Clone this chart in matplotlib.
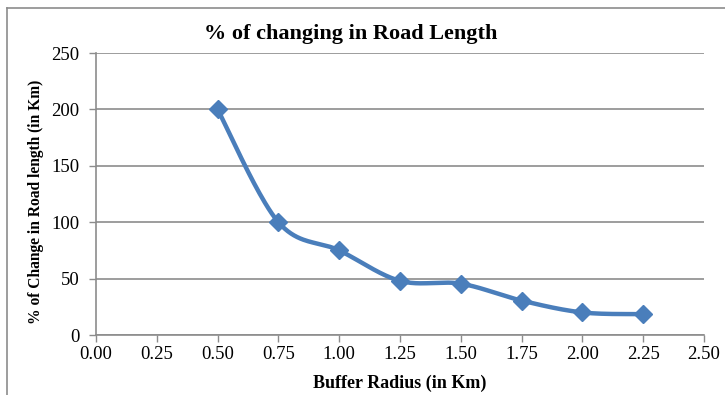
import numpy as np
import matplotlib
matplotlib.use("Agg")
import matplotlib.pyplot as plt
from matplotlib.lines import Line2D

# Data
buffer_radius = [0.50, 0.75, 1.00, 1.25, 1.50, 1.75, 2.00, 2.25]
pct_change = [200, 100, 75, 48, 45.5, 30.5, 20, 18.5]
x_ticks = [0.00, 0.25, 0.50, 0.75, 1.00, 1.25, 1.50, 1.75, 2.00, 2.25, 2.50]
y_ticks = [0, 50, 100, 150, 200, 250]

title = "% of changing in Road Length"
xlabel = "Buffer Radius (in Km)"
ylabel = "% of Change in Road length (in Km)"

BLUE = "#4A7EBB"
GRID = "#8C8C8C"
FONT = "Liberation Serif"

W, H, DPI = 725, 395, 100
fig = plt.figure(figsize=(W / DPI, H / DPI), dpi=DPI)
L, R, T, B = 96, 704, 53, 335
ax = fig.add_axes([L / W, 1 - B / H, (R - L) / W, (B - T) / H])

ax.set_xlim(0, 2.5)
ax.set_ylim(0, 250)
ax.set_xticks(x_ticks)
ax.set_xticklabels([f"{v:.2f}" for v in x_ticks], family=FONT, fontsize=13.5)
ax.set_yticks(y_ticks)
ax.set_yticklabels([str(v) for v in y_ticks], family=FONT, fontsize=13.5)
ax.tick_params(axis="both", direction="out", length=5, width=1, color=GRID)
ax.tick_params(axis="y", pad=7)
ax.tick_params(axis="x", pad=3)
ax.yaxis.grid(True, color=GRID, linewidth=1.2)
ax.set_axisbelow(True)
for s in ["top", "right"]:
    ax.spines[s].set_visible(False)
for s in ["left", "bottom"]:
    ax.spines[s].set_color(GRID)
    ax.spines[s].set_linewidth(1.2)

# Excel-like smoothed line (Bezier with Catmull-Rom control points) in display space
fig.canvas.draw()
pts = ax.transData.transform(np.column_stack([buffer_radius, pct_change]))
n = len(pts)
curve = []
for i in range(n - 1):
    p0 = pts[max(i - 1, 0)]
    p1 = pts[i]
    p2 = pts[i + 1]
    p3 = pts[min(i + 2, n - 1)]
    c1 = p1 + (p2 - p0) / 6.0
    c2 = p2 - (p3 - p1) / 6.0
    t = np.linspace(0, 1, 40)[:, None]
    seg = ((1 - t) ** 3) * p1 + 3 * ((1 - t) ** 2) * t * c1 + 3 * (1 - t) * t ** 2 * c2 + t ** 3 * p2
    curve.append(seg if i == 0 else seg[1:])
curve = np.vstack(curve)
curve_data = ax.transData.inverted().transform(curve)
ax.plot(curve_data[:, 0], curve_data[:, 1], color=BLUE, linewidth=3.2,
        solid_capstyle="round", solid_joinstyle="round", zorder=3)
ax.plot(buffer_radius, pct_change, linestyle="none", marker="D", markersize=9,
        markerfacecolor=BLUE, markeredgecolor=BLUE, zorder=4)

ax.set_xlabel(xlabel, family=FONT, fontsize=13, fontweight="bold", labelpad=8)
ax.set_ylabel(ylabel, family=FONT, fontsize=11.2, fontweight="bold")
ax.yaxis.set_label_coords((44 - L) / (R - L), (B - 202) / (B - T))
fig.text(351 / W, 1 - 34 / H, title, family=FONT, fontsize=16, fontweight="bold",
         ha="center", va="center")

# Chart border (left and top visible)
fig.add_artist(Line2D([7 / W, 7 / W], [0, 1 - 8 / H], transform=fig.transFigure,
                      color="#8C8C8C", linewidth=1.2))
fig.add_artist(Line2D([7 / W, 1], [1 - 8 / H, 1 - 8 / H], transform=fig.transFigure,
                      color="#8C8C8C", linewidth=1.2))

fig.savefig("out.png", dpi=DPI)
